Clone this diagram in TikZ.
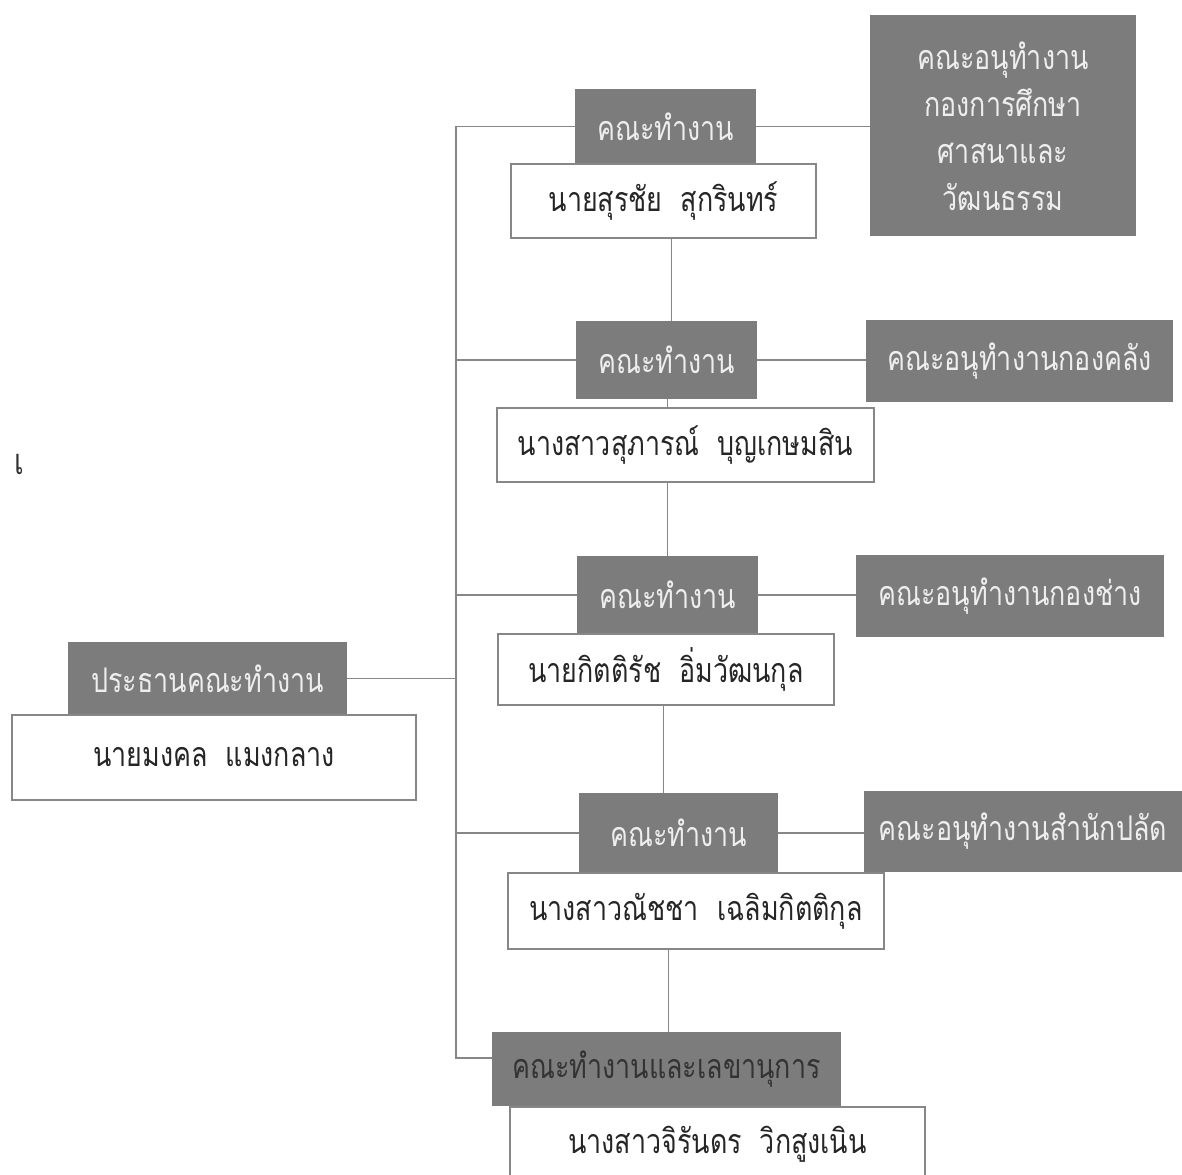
\documentclass[tikz,border=0pt]{standalone}
\usepackage{fontspec}
\newfontfamily\thaifont[Script=Thai, FakeStretch=0.79]{Loma}
\usetikzlibrary{positioning}

\definecolor{boxgray}{RGB}{124,124,124}
\definecolor{linegray}{RGB}{135,135,135}
\definecolor{paletext}{RGB}{238,238,238}

\begin{document}
\begin{tikzpicture}[x=1pt, y=-1pt,
	headbox/.style={fill=boxgray, text=paletext, inner sep=0pt, align=center,
		font=\thaifont\fontsize{34}{47}\selectfont},
	namebox/.style={draw=linegray, line width=1.3pt, fill=white, text=black!85, inner sep=0pt,
		font=\thaifont\fontsize{34}{47}\selectfont},
	link/.style={draw=linegray, line width=1.8pt}]

	\useasboundingbox (0,0) rectangle (1182,1174);

	% Bus line
	\coordinate (bus) at (456,0);

	% Chair
	\node[headbox, minimum width=279, minimum height=73] (chair) at (207.5,678.5) {ประธานคณะทำงาน};
	\node[namebox, minimum width=404, minimum height=85] (chairname) at (214,757.5) {นายมงคล\ \ แมงกลาง};
	\node[font=\thaifont\fontsize{36}{40}\selectfont, text=black!80] (mark) at (19,464) {เ};

	% Working groups
	\node[headbox, minimum width=181, minimum height=75] (head1) at (665.5,126.5) {คณะทำงาน};
	\node[headbox, minimum width=181, minimum height=78] (head2) at (666.5,360) {คณะทำงาน};
	\node[headbox, minimum width=181, minimum height=78] (head3) at (667.5,595) {คณะทำงาน};
	\node[headbox, minimum width=199, minimum height=80] (head4) at (678.5,833) {คณะทำงาน};
	\node[headbox, text=black!80, minimum width=349, minimum height=74] (head5) at (666.5,1069) {คณะทำงานและเลขานุการ};

	% Sub groups
	\node[headbox, minimum width=266, minimum height=221] (sub1) at (1003,126) {คณะอนุทำงาน\\กองการศึกษา\\ศาสนาและ\\วัฒนธรรม};
	\node[headbox, minimum width=307, minimum height=82] (sub2) at (1019.5,361) {คณะอนุทำงานกองคลัง};
	\node[headbox, minimum width=308, minimum height=82] (sub3) at (1010,596) {คณะอนุทำงานกองช่าง};
	\node[headbox, minimum width=318, minimum height=81] (sub4) at (1023,831.5) {คณะอนุทำงานสำนักปลัด};

	% Connectors
	\draw[link] (chair.east) -- (chair.east -| bus);
	\draw[link] (head1.west) -- (head1.west -| bus) |- ([yshift=11pt]head5.west);
	\foreach \k in {2,3,4}
		\draw[link] (head\k.west) -- (head\k.west -| bus);
	\foreach \k in {1,2,3,4}
		\draw[link] (head\k.east) -- (head\k.east -| sub\k.west);
	\draw[link] ([xshift=6pt]head1.south) -- ([xshift=6pt]head1.south |- head2.north);
	\draw[link] ([xshift=1pt]head2.south) -- ([xshift=1pt]head2.south |- head3.north);
	\draw[link] ([xshift=-4pt]head3.south) -- ([xshift=-4pt]head3.south |- head4.north);
	\draw[link] ([xshift=-10pt]head4.south) -- ([xshift=-10pt]head4.south |- head5.north);

	% Names
	\node[namebox, minimum width=305, minimum height=74] (name1) at (663.5,201) {นายสุรชัย\ \ สุกรินทร์};
	\node[namebox, minimum width=377, minimum height=74] (name2) at (685.5,445) {นางสาวสุภารณ์\ \ บุญเกษมสิน};
	\node[namebox, minimum width=336, minimum height=71] (name3) at (666,669.5) {นายกิตติรัช\ \ อิ่มวัฒนกุล};
	\node[namebox, minimum width=376, minimum height=76] (name4) at (696,911) {นางสาวณัชชา\ \ เฉลิมกิตติกุล};
	\node[namebox, minimum width=415, minimum height=75] (name5) at (717.5,1144.5) {นางสาวจิรันดร\ \ วิกสูงเนิน};

\end{tikzpicture}
\end{document}
